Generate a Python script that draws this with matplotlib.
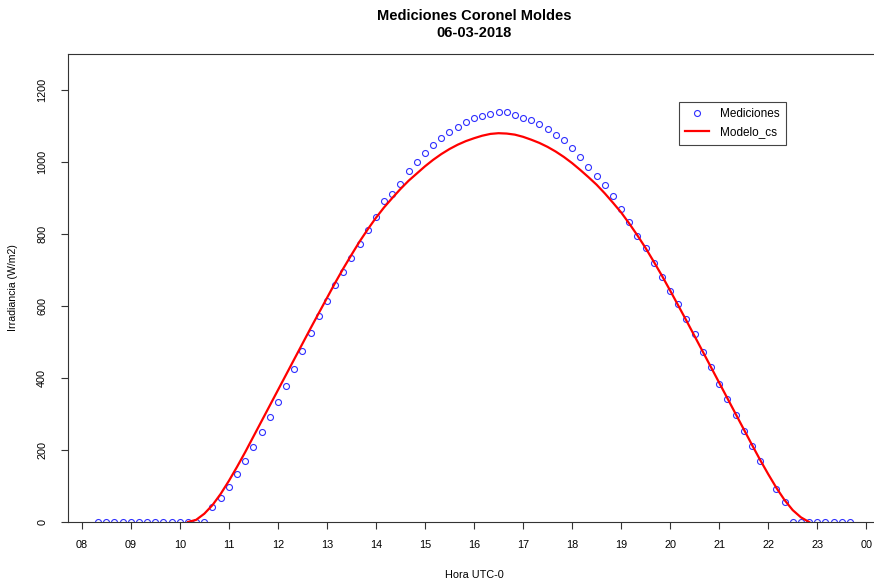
import numpy as np
import pandas as pd
import matplotlib
matplotlib.use("Agg")
import matplotlib.pyplot as plt

plt.rcParams["font.family"] = ["Liberation Sans", "DejaVu Sans"]

# Mediciones cada 10 minutos, 08:20 a 23:40 (hora UTC-0)
t_med = pd.date_range("2018-03-06 08:20", "2018-03-06 23:40", freq="10min")
irr_med = [
    0, 0, 0, 0, 0, 0, 0, 0, 0, 0, 0, 0, 0, 0,          # 08:20 - 10:30
    43, 68, 98, 132, 169, 207, 251, 293, 333, 377,     # 10:40 - 12:10
    425, 474, 524, 571, 615, 659, 694, 732, 773, 811,  # 12:20 - 13:50
    846, 892, 912, 940, 975, 1000, 1026, 1046, 1067, 1083,  # 14:00 - 15:30
    1098, 1111, 1121, 1127, 1134, 1139, 1138, 1131, 1121, 1117,  # 15:40 - 17:10
    1106, 1092, 1075, 1062, 1038, 1013, 987, 961, 935, 906,  # 17:20 - 18:50
    869, 833, 795, 760, 720, 680, 642, 606, 563, 521,  # 19:00 - 20:30
    472, 431, 383, 341, 298, 254, 211, 169, np.nan, 91,  # 20:40 - 22:10
    56, 0, 0, 0, 0, 0, 0, 0, 0,                        # 22:20 - 23:40
]

# Modelo de cielo claro (Modelo_cs), 10:10 a 22:50
t_mod = pd.date_range("2018-03-06 10:10", "2018-03-06 22:50", freq="10min")
irr_mod = [
    0, 6, 23, 47, 78, 114, 153, 194, 237, 280,
    323, 366, 409, 452, 495, 538, 580, 622, 664, 704,
    742, 779, 813, 845, 874, 900, 925, 948, 968, 988,
    1006, 1022, 1036, 1048, 1058, 1066, 1073, 1078, 1080, 1079,
    1076, 1070, 1062, 1053, 1042, 1029, 1014, 997, 978, 958,
    937, 913, 887, 860, 829, 796, 761, 723, 684, 643,
    601, 559, 516, 473, 430, 387, 344, 301, 258, 215,
    173, 133, 95, 61, 33, 13, 0,
]

hora_ticks = list(range(8, 25))
hora_labels = ["08", "09", "10", "11", "12", "13", "14", "15", "16",
               "17", "18", "19", "20", "21", "22", "23", "00"]
irr_ticks = [0, 200, 400, 600, 800, 1000, 1200]


def a_horas(t):
    return t.hour + t.minute / 60.0


x_med = a_horas(t_med)
x_mod = a_horas(t_mod)

W, H = 874, 583
fig = plt.figure(figsize=(W / 100, H / 100), dpi=100)
ax = fig.add_axes([68 / W, (H - 522) / H, (880 - 68) / W, (522 - 54) / H])

ax.plot(x_med, irr_med, linestyle="none", marker="o", markersize=4.3,
        markerfacecolor="none", markeredgecolor="#2f2fff", markeredgewidth=0.8,
        label="Mediciones")
ax.plot(x_mod, irr_mod, color="#ff0000", linewidth=1.6, label="Modelo_cs")

span = x_med[-1] - x_med[0]
ax.set_xlim(x_med[0] - 0.04 * span, x_med[-1] + 0.04 * span)
ax.set_ylim(0, 1300)

ax.set_xticks(hora_ticks)
ax.set_xticklabels(hora_labels)
ax.set_yticks(irr_ticks)
ax.set_yticklabels([str(v) for v in irr_ticks], rotation=90, va="center")
ax.tick_params(axis="both", labelsize=7.8, length=5, width=0.8, color="#333333")
ax.tick_params(axis="x", pad=8)
ax.tick_params(axis="y", pad=10)
for s in ax.spines.values():
    s.set_linewidth(0.8)
    s.set_color("#333333")

ax.set_xlabel("Hora UTC-0", fontsize=7.8, labelpad=14)
ax.set_ylabel("Irradiancia (W/m2)", fontsize=7.6, labelpad=14)

fig.text(474 / W, 1 - 16 / H, "Mediciones Coronel Moldes", ha="center",
         va="center", fontsize=10.5, fontweight="bold")
fig.text(474 / W, 1 - 33 / H, "06-03-2018", ha="center",
         va="center", fontsize=10.5, fontweight="bold")

leg = ax.legend(loc="upper left", bbox_to_anchor=(679 / W, 1 - 101.7 / H),
                bbox_transform=fig.transFigure, fontsize=8.5, frameon=True,
                fancybox=False, edgecolor="#444444", framealpha=1,
                handlelength=2.0, labelspacing=0.5, borderpad=0.55,
                handletextpad=0.9, borderaxespad=0)
leg.get_frame().set_linewidth(0.8)

fig.savefig("out.png", dpi=100)
